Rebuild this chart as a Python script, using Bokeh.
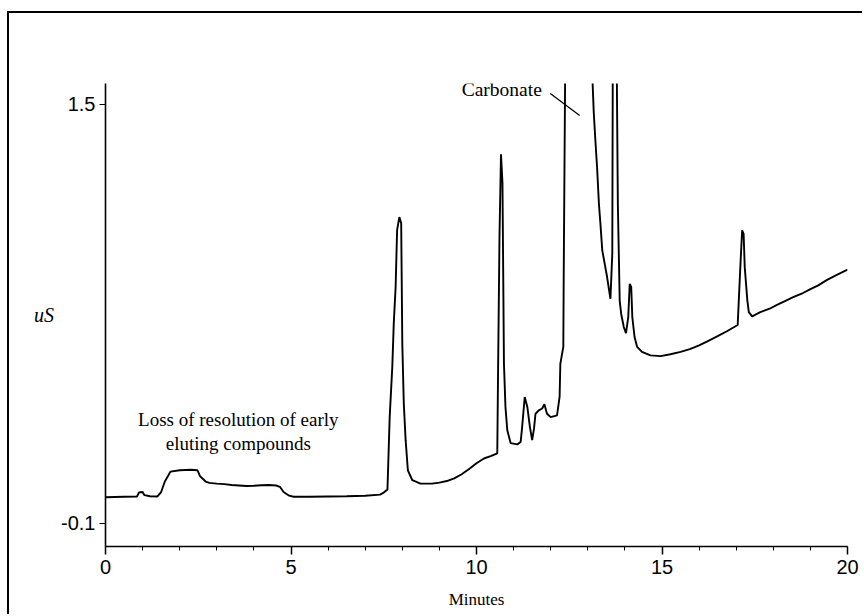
from bokeh.plotting import figure
from bokeh.models import Range1d, FixedTicker, Label, ColumnDataSource
from bokeh.embed import file_html
from bokeh.resources import INLINE

# Chromatogram trace (minutes, uS)
minutes = [0.0, 0.5, 0.85, 0.9, 1.0, 1.05, 1.2, 1.4, 1.5, 1.6, 1.7, 1.75, 2.0, 2.3, 2.48,
           2.55, 2.7, 2.8, 3.0, 3.2, 3.4, 3.6, 3.8, 4.0, 4.2, 4.4, 4.6, 4.7, 4.8, 4.95, 5.07,
           5.5, 6.0, 6.5, 7.0, 7.4, 7.5, 7.6, 7.66, 7.73, 7.77, 7.82, 7.86, 7.92, 7.97, 8.0,
           8.04, 8.09, 8.15, 8.27, 8.49, 8.8, 9.0, 9.2, 9.4, 9.6, 9.8, 10.0, 10.2, 10.4,
           10.56, 10.58, 10.62, 10.66, 10.7, 10.74, 10.78, 10.83, 10.92, 11.1, 11.19, 11.23,
           11.3, 11.37, 11.44, 11.5, 11.55, 11.59, 11.68, 11.77, 11.83, 11.9, 12.0, 12.17,
           12.24, 12.26, 12.34, 12.35, 12.37, 12.42, 12.6, 12.9, 13.1, 13.13, 13.16, 13.21,
           13.25, 13.3, 13.34, 13.39, 13.52, 13.61, 13.66, 13.68, 13.72, 13.76, 13.81, 13.86,
           13.9, 13.97, 14.03, 14.09, 14.13, 14.17, 14.2, 14.26, 14.33, 14.46, 14.69, 14.96,
           15.23, 15.5, 15.75, 16.0, 16.25, 16.5, 16.75, 17.04, 17.07, 17.12, 17.16, 17.2,
           17.23, 17.3, 17.34, 17.43, 17.65, 17.9, 18.1, 18.3, 18.55, 18.8, 19.0, 19.2,
           19.45, 19.7, 20.0]
conductivity = [0.0, 0.002, 0.003, 0.018, 0.02, 0.008, 0.004, 0.003, 0.02, 0.06, 0.085, 0.098,
                0.103, 0.105, 0.103, 0.08, 0.06, 0.055, 0.052, 0.05, 0.047, 0.045, 0.043, 0.044,
                0.046, 0.047, 0.045, 0.04, 0.02, 0.006, 0.002, 0.002, 0.003, 0.004, 0.006,
                0.01, 0.018, 0.03, 0.306, 0.497, 0.664, 0.803, 1.02, 1.07, 1.046, 0.588, 0.359,
                0.218, 0.103, 0.065, 0.052, 0.052, 0.056, 0.062, 0.072, 0.088, 0.108, 0.13,
                0.148, 0.158, 0.168, 0.459, 1.0, 1.31, 1.2, 0.51, 0.346, 0.256, 0.207, 0.202,
                0.211, 0.268, 0.383, 0.345, 0.268, 0.218, 0.262, 0.319, 0.332, 0.339, 0.355,
                0.319, 0.306, 0.313, 0.383, 0.51, 0.574, 0.828, 1.233, 2.2, 4.0, 4.0, 2.2, 1.58,
                1.47, 1.35, 1.26, 1.12, 1.045, 0.943, 0.841, 0.758, 0.93, 2.0, 2.5, 2.0, 1.12,
                0.75, 0.70, 0.65, 0.627, 0.688, 0.815, 0.803, 0.688, 0.612, 0.574, 0.555, 0.542,
                0.539, 0.546, 0.555, 0.566, 0.58, 0.597, 0.615, 0.634, 0.658, 0.752, 0.905,
                1.019, 1.006, 0.879, 0.752, 0.707, 0.691, 0.707, 0.72, 0.735, 0.748, 0.765,
                0.78, 0.795, 0.808, 0.83, 0.848, 0.869]

x_ticks = [0, 5, 10, 15, 20]
x_minor_ticks = list(range(0, 21))
y_ticks = [-0.1, 1.5]
y_tick_labels = {-0.1: "-0.1", 1.5: "1.5"}

p = figure(width=855, height=603, output_backend="svg", toolbar_location=None,
           x_range=Range1d(0, 20), y_range=Range1d(-0.188, 1.58),
           min_border_left=96, min_border_top=70, min_border_right=17, min_border_bottom=70)
p.styles = {"margin-left": "7px", "margin-top": "11px",
            "border-left": "2px solid black", "border-top": "2px solid black"}

p.outline_line_color = None
p.grid.visible = False
p.background_fill_color = "white"
p.border_fill_color = "white"

src = ColumnDataSource(dict(t=minutes, v=conductivity))
p.line("t", "v", source=src, line_color="black", line_width=1.9)

tick_font = "Liberation Sans Narrow, Liberation Sans, sans-serif"

xa = p.xaxis[0]
xa.ticker = FixedTicker(ticks=x_ticks, minor_ticks=x_minor_ticks)
xa.axis_label = "Minutes"
xa.axis_label_text_font = "Liberation Serif"
xa.axis_label_text_font_style = "normal"
xa.axis_label_text_font_size = "17px"
xa.axis_label_text_color = "black"
xa.axis_label_standoff = 13
xa.major_label_text_font = tick_font
xa.major_label_text_font_size = "20px"
xa.major_label_text_color = "black"
xa.major_label_standoff = 5
xa.major_tick_out = 8
xa.major_tick_in = 0
xa.minor_tick_out = 4
xa.minor_tick_in = 0
xa.axis_line_width = 1.6
xa.axis_line_color = "black"
xa.major_tick_line_color = "black"
xa.minor_tick_line_color = "black"
xa.major_tick_line_width = 1.5

ya = p.yaxis[0]
ya.ticker = FixedTicker(ticks=y_ticks, minor_ticks=[])
ya.major_label_overrides = y_tick_labels
ya.axis_label = "uS"
ya.axis_label_orientation = "horizontal"
ya.axis_label_text_font = "Liberation Serif"
ya.axis_label_text_font_style = "italic"
ya.axis_label_text_font_size = "20px"
ya.axis_label_text_color = "black"
ya.axis_label_standoff = 4
ya.major_label_text_font = tick_font
ya.major_label_text_font_size = "20px"
ya.major_label_text_color = "black"
ya.major_label_standoff = 4
ya.major_tick_out = 6
ya.major_tick_in = 0
ya.axis_line_width = 1.6
ya.axis_line_color = "black"
ya.major_tick_line_color = "black"

serif = "Liberation Serif"
p.add_layout(Label(x=9.6, y=1.556, text="Carbonate", text_font=serif,
                   text_font_size="19.5px", text_color="black", text_baseline="alphabetic"))
p.segment(x0=[11.99], y0=[1.542], x1=[12.78], y1=[1.458],
          line_color="black", line_width=1.3)
p.add_layout(Label(x=3.58, y=0.298, text="Loss of resolution of early", text_font=serif,
                   text_font_size="19px", text_color="black", text_align="center",
                   text_baseline="alphabetic"))
p.add_layout(Label(x=3.58, y=0.206, text="eluting compounds", text_font=serif,
                   text_font_size="19px", text_color="black", text_align="center",
                   text_baseline="alphabetic"))

open("out.html", "w").write(file_html(p, INLINE))
